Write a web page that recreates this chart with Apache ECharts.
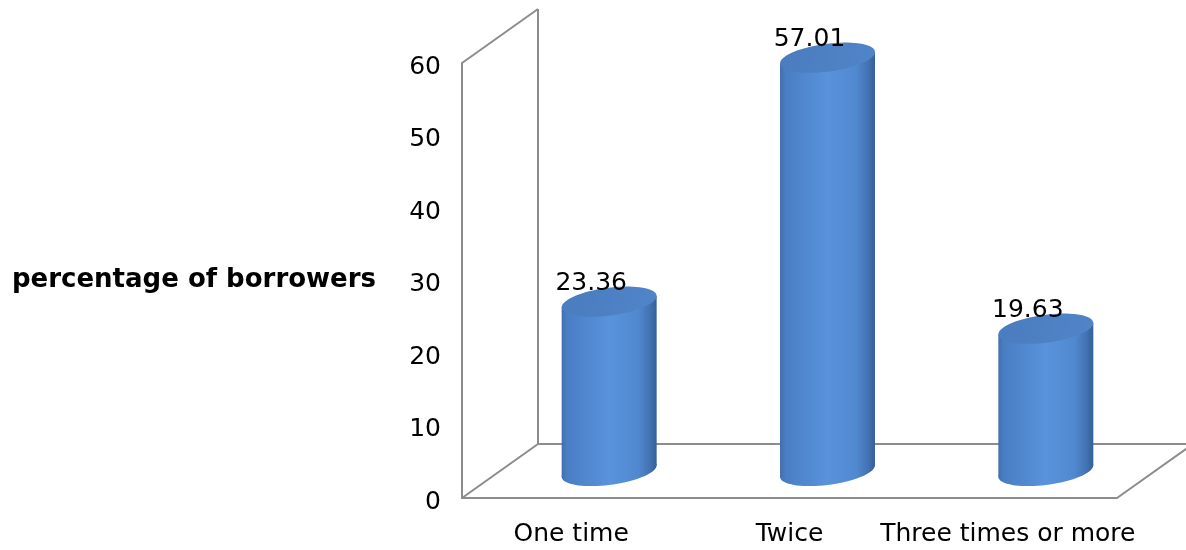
<!DOCTYPE html>
<html><head><meta charset="utf-8">
<script src="https://cdn.jsdelivr.net/npm/echarts@6/dist/echarts.min.js"></script>
<style>html,body{margin:0;padding:0;background:#fff}#c{width:1186px;height:550px}</style>
</head><body><div id="c"></div>
<script>
const categories = ['One time', 'Twice', 'Three times or more'];
const values = [23.36, 57.01, 19.63];
const yTicks = [0, 10, 20, 30, 40, 50, 60];
const axisTitle = 'percentage of borrowers';

const GRID = {left: 462, right: 69, top: 63, bottom: 52};
const DEPTH_X = 76, DEPTH_Y = -54;
const FONT = 'DejaVu Sans';
const WALL = '#8c8c8c';

const chart = echarts.init(document.getElementById('c'), null, {renderer: 'canvas'});

function ellipsePoints(cx, cy, rx, ry, k) {
  const pts = [];
  for (let i = 0; i < 72; i++) {
    const a = i / 72 * Math.PI * 2;
    const dx = rx * Math.cos(a);
    pts.push([cx + dx, cy + ry * Math.sin(a) - k * dx]);
  }
  return pts;
}

function renderCylinder(params, api) {
  const idx = api.value(0);
  const v = api.value(1);
  const top = api.coord([idx, v]);
  const base = api.coord([idx, 0]);
  const band = api.size([1, 0])[0];
  const rx = band * 0.435 / 2;
  const ry = 14;
  const k = 0.12;
  const cx = top[0] + DEPTH_X / 2;
  const ty = top[1] + DEPTH_Y / 2;
  const by = base[1] + DEPTH_Y / 2;
  const grad = () => new echarts.graphic.LinearGradient(0, 0, 1, 0, [
    {offset: 0, color: '#416fae'}, {offset: 0.06, color: '#4a7ec4'},
    {offset: 0.5, color: '#5893db'}, {offset: 0.8, color: '#5189d0'},
    {offset: 0.93, color: '#4272b2'}, {offset: 1, color: '#365f96'}]);
  return {type: 'group', children: [
    {type: 'polygon', shape: {points: ellipsePoints(cx, by, rx, ry, k)}, style: {fill: grad()}},
    {type: 'polygon', shape: {points: [[cx - rx, ty + k * rx], [cx + rx, ty - k * rx], [cx + rx, by - k * rx], [cx - rx, by + k * rx]]}, style: {fill: grad()}},
    {type: 'polygon', shape: {points: ellipsePoints(cx, ty, rx, ry, k)},
      style: {fill: new echarts.graphic.LinearGradient(0, 0, 1, 1, [{offset: 0, color: '#4a7cbe'}, {offset: 1, color: '#5085c9'}])}},
    {type: 'text', x: cx - 18, y: ty - 6, z2: 10,
      style: {text: v.toFixed(2), font: '25px "' + FONT + '"', fill: '#000', align: 'center', verticalAlign: 'bottom'}}
  ]};
}

chart.setOption({
  animation: false,
  backgroundColor: '#fff',
  grid: Object.assign({containLabel: false, outerBoundsMode: 'none'}, GRID),
  xAxis: {
    type: 'category', data: categories,
    axisLine: {lineStyle: {color: WALL, width: 2}},
    axisTick: {show: false},
    axisLabel: {fontFamily: FONT, fontSize: 25, color: '#000', margin: 24, interval: 0}
  },
  yAxis: {
    type: 'value', min: yTicks[0], max: yTicks[yTicks.length - 1], interval: 10,
    axisLine: {show: true, lineStyle: {color: WALL, width: 2}},
    axisTick: {show: false},
    splitLine: {show: false},
    axisLabel: {
      fontFamily: FONT, fontSize: 25, color: '#000', margin: 21,
      formatter: '{v|{value}}',
      rich: {v: {fontFamily: FONT, fontSize: 25, color: '#000', lineHeight: 33, verticalAlign: 'bottom'}}
    }
  },
  series: [{
    type: 'custom', z: 5,
    data: values.map((v, i) => [i, v]),
    encode: {x: 0, y: 1},
    renderItem: renderCylinder
  }]
});

const yTop = chart.convertToPixel({yAxisIndex: 0}, yTicks[yTicks.length - 1]);
const yBot = chart.convertToPixel({yAxisIndex: 0}, yTicks[0]);
const xL = GRID.left, xR = 1186 - GRID.right;
const ls = {stroke: WALL, lineWidth: 2};
const line = (x1, y1, x2, y2) => ({type: 'line', z: 1, shape: {x1, y1, x2, y2}, style: ls});
chart.setOption({
  graphic: [
    line(xL + DEPTH_X, yTop + DEPTH_Y, xL + DEPTH_X, yBot + DEPTH_Y),
    line(xL, yTop, xL + DEPTH_X, yTop + DEPTH_Y),
    line(xL, yBot, xL + DEPTH_X, yBot + DEPTH_Y),
    line(xL + DEPTH_X, yBot + DEPTH_Y, xR + DEPTH_X, yBot + DEPTH_Y),
    line(xR, yBot, xR + DEPTH_X, yBot + DEPTH_Y),
    {type: 'text', z: 1, x: 12, y: (yTop + yBot) / 2,
      style: {text: axisTitle, font: 'bold 26px "' + FONT + '"', fill: '#000', verticalAlign: 'middle'}}
  ]
});
</script></body></html>
